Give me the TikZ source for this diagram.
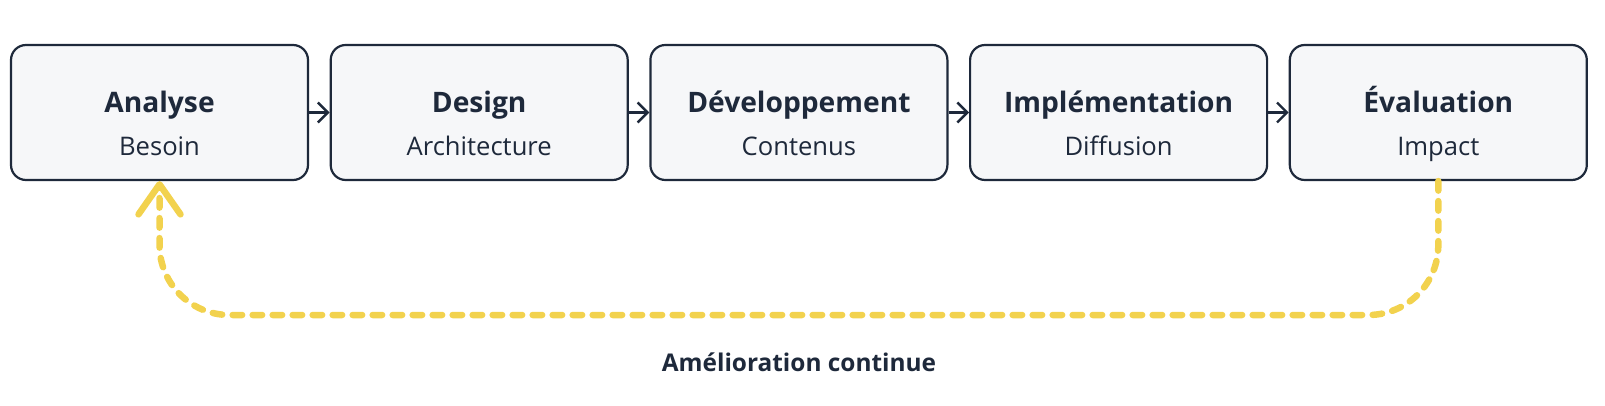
\documentclass[tikz,border=0pt]{standalone}
\usepackage{fontspec}
\setmainfont{Open Sans}
\usetikzlibrary{arrows.meta, positioning}
\definecolor{ink}{HTML}{1E293B}
\definecolor{boxfill}{HTML}{F6F7F9}
\definecolor{loopyellow}{HTML}{F2D24E}
\newcommand{\phasetitle}[1]{{\fontsize{14.1}{21.5}\selectfont\bfseries\rule{0pt}{25.5pt}#1}}
\newcommand{\phasesub}[1]{\rule[-3.5pt]{0pt}{3.5pt}#1}

\begin{document}
\begin{tikzpicture}[
		x=0.5pt, y=-0.5pt,
		node distance=10.25pt,
		phase/.style={draw=ink, line width=1.1pt, rounded corners=7.5pt, fill=boxfill, align=center, minimum width=148.5pt, minimum height=67.5pt, inner sep=0pt, text=ink, font=\fontsize{12.8}{21.5}\selectfont},
		arr/.style={-{Straight Barb[length=5pt, width=10pt]}, line width=1.2pt, draw=ink},
		fb/.style={draw=loopyellow, line width=3.25pt, line cap=round, dash pattern=on 4.75pt off 5.25pt, rounded corners=35pt, -{Straight Barb[length=15pt, width=21pt, round]}}
	]
	\useasboundingbox (0,0) rectangle (1605,406);
	\node[phase] (ana) at (159.5,112.5) {\phasetitle{Analyse}\\ \phasesub{Besoin}};
	\node[phase, right=of ana] (des) {\phasetitle{Design}\\ \phasesub{Architecture}};
	\node[phase, right=of des] (dev) {\phasetitle{Développement}\\ \phasesub{Contenus}};
	\node[phase, right=of dev] (imp) {\phasetitle{Implémentation}\\ \phasesub{Diffusion}};
	\node[phase, right=of imp] (eva) {\phasetitle{Évaluation}\\ \phasesub{Impact}};
	\draw[arr] (ana) -- (des); \draw[arr] (des) -- (dev); \draw[arr] (dev) -- (imp); \draw[arr] (imp) -- (eva);
	% boucle de retour
	\coordinate (bot) at (0,315);
	\draw[fb] (eva.south) -- (eva.south |- bot) -- (ana.south |- bot) -- (ana.south);
	\node[text=ink, font=\fontsize{12.2}{15}\selectfont\bfseries] (amel) at (799,362) {Amélioration continue};
\end{tikzpicture}
\end{document}
